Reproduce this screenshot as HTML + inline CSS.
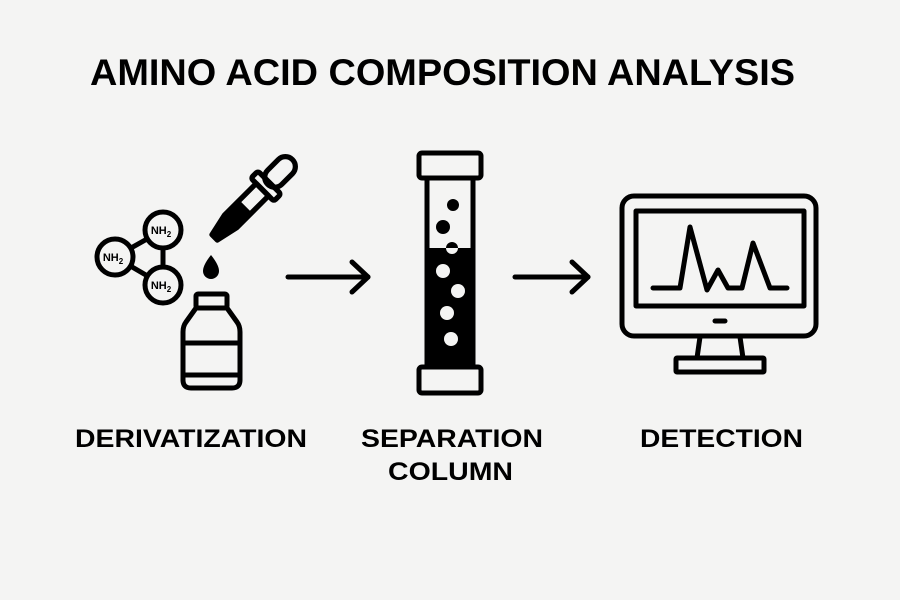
<!DOCTYPE html>
<html><head><style>html,body{margin:0;padding:0;background:#f4f4f3;}svg{display:block}</style></head>
<body>
<svg width="900" height="600" viewBox="0 0 900 600" xmlns="http://www.w3.org/2000/svg" font-family="Liberation Sans, sans-serif" font-weight="bold">
<rect width="900" height="600" fill="#f4f4f3"/>
<text x="90" y="85" font-size="37" textLength="705" lengthAdjust="spacingAndGlyphs" fill="#000">AMINO ACID COMPOSITION ANALYSIS</text>
<g font-size="25" fill="#000">
<text x="75" y="447" textLength="232" lengthAdjust="spacingAndGlyphs">DERIVATIZATION</text>
<text x="361" y="447" textLength="182" lengthAdjust="spacingAndGlyphs">SEPARATION</text>
<text x="388" y="480" textLength="125" lengthAdjust="spacingAndGlyphs">COLUMN</text>
<text x="640" y="447" textLength="163" lengthAdjust="spacingAndGlyphs">DETECTION</text>
</g>
<g stroke="#000" stroke-width="5" fill="none" stroke-linecap="round" stroke-linejoin="round">
<line x1="115" y1="257" x2="163" y2="230"/>
<line x1="115" y1="257" x2="163" y2="285"/>
<line x1="163" y1="230" x2="163" y2="285"/>
<circle cx="163" cy="230" r="18" fill="#f4f4f3"/>
<circle cx="115" cy="257" r="18" fill="#f4f4f3"/>
<circle cx="163" cy="285" r="18" fill="#f4f4f3"/>
<rect x="196" y="294" width="31" height="14" rx="2"/>
<path d="M196 308 L186 322 Q183 326 183 332 L183 380 Q183 388 191 388 L232 388 Q240 388 240 380 L240 332 Q240 326 237 322 L227 308"/>
<line x1="183" y1="343" x2="240" y2="343"/>
<line x1="183" y1="375" x2="240" y2="375"/>
<line x1="288" y1="277" x2="368" y2="277"/>
<polyline points="352,262 368,277 352,292"/>
<line x1="515" y1="277" x2="588" y2="277"/>
<polyline points="572,262 588,277 572,292"/>
<rect x="419" y="153" width="62" height="25" rx="3"/>
<rect x="419" y="367" width="62" height="26" rx="3"/>
<line x1="427" y1="178" x2="427" y2="367"/>
<line x1="473" y1="178" x2="473" y2="367"/>
<rect x="622" y="196" width="194" height="140" rx="12"/>
<rect x="636" y="211" width="168" height="95"/>
<polyline points="653,288 680,288 690,227 707,290 718,270 728,288 742,288 753,243 770,288 787,288"/>
<line x1="715" y1="321" x2="725" y2="321" stroke-width="5"/>
<path d="M700 337 L697 358 M740 337 L743 358"/>
<rect x="676" y="358" width="88" height="14" rx="1"/>
</g>
<g font-size="11" fill="#000" text-anchor="middle">
<text x="161" y="234">NH<tspan font-size="8" dy="3">2</tspan></text>
<text x="113" y="261">NH<tspan font-size="8" dy="3">2</tspan></text>
<text x="161" y="289">NH<tspan font-size="8" dy="3">2</tspan></text>
</g>
<g transform="translate(250,202) rotate(45) scale(1.25)">
<rect x="-8" y="-48" width="16" height="28" rx="8" fill="none" stroke="#000" stroke-width="4.2"/>
<rect x="-13" y="-22" width="26" height="8" rx="2" fill="none" stroke="#000" stroke-width="4.2"/>
<path d="M-7 -14 L-7 22 L-3 40 L3 40 L7 22 L7 -14 Z" fill="none" stroke="#000" stroke-width="4.2" stroke-linejoin="round"/>
<path d="M-7 5 L7 5 L7 22 L3 40 L-3 40 L-7 22 Z" fill="#000"/>
</g>
<path d="M211 255 Q203 265 203 271 A8 8 0 0 0 219 271 Q219 265 211 255 Z" fill="#000"/>
<rect x="427" y="248" width="46" height="119" fill="#000"/>
<g fill="#000"><circle cx="453" cy="205" r="6"/><circle cx="443" cy="227" r="7"/></g>
<g fill="#f4f4f3">
<path d="M446 248 A6 6 0 0 0 458 248 Z"/>
<circle cx="443" cy="271" r="7"/><circle cx="458" cy="291" r="7"/><circle cx="447" cy="313" r="7"/><circle cx="451" cy="339" r="7"/>
</g>
<path d="M446 248 A6 6 0 0 1 458 248 Z" fill="#000"/>
</svg>
</body></html>
